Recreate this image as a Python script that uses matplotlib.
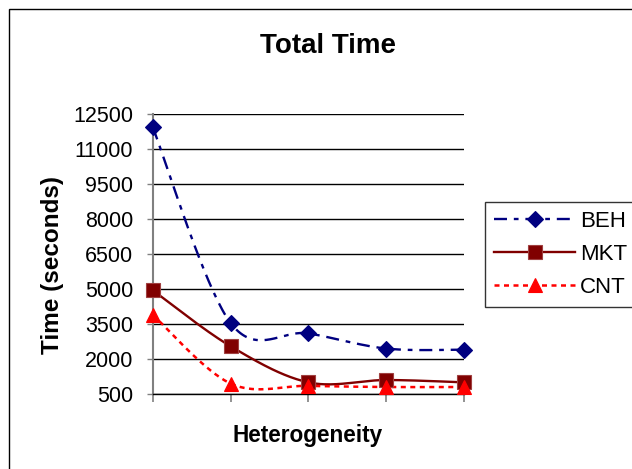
import numpy as np
import matplotlib
matplotlib.use("Agg")
import matplotlib.pyplot as plt
from matplotlib.lines import Line2D
from matplotlib.patches import Rectangle

plt.rcParams['font.family'] = ['Liberation Sans', 'DejaVu Sans']

# Heterogeneity levels (no tick labels shown on the category axis)
levels = [0, 1, 2, 3, 4]
series_names = ["BEH", "MKT", "CNT"]
beh = [11950, 3550, 3100, 2450, 2400]
mkt = [4950, 2550, 1000, 1100, 1000]
cnt = [3900, 950, 850, 800, 800]
y_ticks = [500, 2000, 3500, 5000, 6500, 8000, 9500, 11000, 12500]


def smooth_curve(xs, ys, n=40):
    """Catmull-Rom style cubic Bezier through the points (spreadsheet smoothing)."""
    pts = np.column_stack([xs, ys]).astype(float)
    out = [pts[0]]
    t = np.linspace(0, 1, n)[1:, None]
    for i in range(len(pts) - 1):
        p0 = pts[i - 1] if i > 0 else pts[i]
        p1, p2 = pts[i], pts[i + 1]
        p3 = pts[i + 2] if i + 2 < len(pts) else pts[i + 1]
        c1 = p1 + (p2 - p0) / 6.0
        c2 = p2 - (p3 - p1) / 6.0
        seg = ((1 - t) ** 3) * p1 + 3 * ((1 - t) ** 2) * t * c1 \
            + 3 * (1 - t) * t ** 2 * c2 + t ** 3 * p2
        out.extend(seg)
    out = np.array(out)
    return out[:, 0], out[:, 1]


W, H = 632, 469
fig = plt.figure(figsize=(W / 100, H / 100), dpi=100)
ax = fig.add_axes([152.7 / W, 1 - 394 / H, (464 - 152.7) / W, (394 - 114.3) / H])

styles = [
    dict(color="#000080", ls=(0, (5.5, 2.9, 2.0, 2.9)), lw=1.7, marker="D", ms=8.2,
         mec="#000080", mfc="#000080"),
    dict(color="#800000", ls="-", lw=1.7, marker="s", ms=10.2,
         mec="#a04040", mfc="#800000"),
    dict(color="#ff0000", ls=(0, (2.0, 1.8)), lw=1.8, marker="^", ms=10.6,
         mec="#ff0000", mfc="#ff0000"),
]

handles = []
for name, vals, st in zip(series_names, [beh, mkt, cnt], styles):
    sx, sy = smooth_curve(levels, vals)
    ax.plot(sx, sy, color=st["color"], ls=st["ls"], lw=st["lw"], zorder=3,
            clip_on=False)
    ax.plot(levels, vals, ls="none", marker=st["marker"], ms=st["ms"],
            mfc=st["mfc"], mec=st["mec"], mew=0.8, zorder=4, clip_on=False)
    handles.append(Line2D([], [], color=st["color"], ls=st["ls"], lw=st["lw"],
                          marker=st["marker"], ms=st["ms"], mfc=st["mfc"],
                          mec=st["mec"], mew=0.8, label=name))

ax.set_xlim(0, 4)
ax.set_ylim(500, 12500)
ax.set_yticks(y_ticks)
ax.set_yticklabels([str(v) for v in y_ticks])
ax.set_xticks(levels)
ax.set_xticklabels([])
ax.yaxis.grid(True, color="black", lw=1.0, zorder=1)
ax.set_axisbelow(True)

for side in ["top", "right"]:
    ax.spines[side].set_visible(False)
ax.spines["left"].set_color("#808080")
ax.spines["left"].set_linewidth(1.5)
ax.spines["bottom"].set_color("black")
ax.spines["bottom"].set_linewidth(1.0)

ax.tick_params(axis="y", length=4, width=1.0, color="#808080", pad=10,
               labelsize=15.5, direction="out")
ax.tick_params(axis="x", length=6, width=1.2, color="#808080", direction="out")

fig.text(328 / W, 1 - 52.7 / H, "Total Time", ha="center", va="baseline",
         fontsize=20, fontweight="bold")
fig.text(308 / W, 1 - 442.3 / H, "Heterogeneity", ha="center", va="baseline",
         fontsize=16.3, fontweight="bold")
fig.text(59.3 / W, 1 - 265 / H, "Time (seconds)", ha="center", va="baseline",
         rotation=90, rotation_mode="anchor", fontsize=17.5, fontweight="bold")

leg = fig.legend(handles=handles, loc="upper left",
                 bbox_to_anchor=(485.3 / W, 1 - 201.7 / H),
                 fontsize=16, frameon=True, fancybox=False, shadow=False,
                 handlelength=3.65, handletextpad=0.22, labelspacing=0.55,
                 borderpad=0.4, borderaxespad=0)
leg.get_frame().set_edgecolor("black")
leg.get_frame().set_linewidth(1.0)

# outer chart border
fig.patches.append(Rectangle((9 / W, -0.1), 1.2, 1 - 9 / H + 0.1,
                             transform=fig.transFigure, fill=False,
                             edgecolor="black", lw=1.0))

fig.savefig("out.png", dpi=100)
